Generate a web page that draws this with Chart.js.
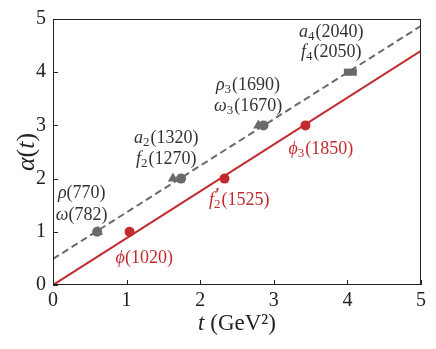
<!DOCTYPE html>
<html lang="en">
<head>
  <meta charset="UTF-8">
  <title>Regge trajectories</title>
  <style>
    html, body { margin: 0; padding: 0; background: #fff; }
    #wrap { width: 436px; height: 349px; }
  </style>
  <script src="https://cdn.jsdelivr.net/npm/chart.js"></script>
</head>
<body>
  <div id="wrap"><canvas id="regge"></canvas></div>

  <script>
    // mass squared (GeV^2) vs spin J
    const grayCircleT = [0.60, 1.74, 2.86];
    const grayCircleJ = [1, 2, 3];
    const grayTriangleT = [0.61, 1.63, 2.79];
    const grayTriangleJ = [1, 2, 3];
    const graySquareT = [4.00, 4.08];
    const graySquareJ = [4, 4];
    const redT = [1.04, 2.33, 3.43];
    const redJ = [1, 2, 3];

    // linear trajectories, end points at t = 0 and t = 5
    const lineT = [0, 5];
    const grayLineA = [0.49, 4.87];
    const redLineA = [0, 4.40];

    const tickValues = [0, 1, 2, 3, 4, 5];

    const GRAY = '#6a6a6a';
    const RED = '#c22a2e';
    const SERIF = '"Liberation Serif", "DejaVu Serif", serif';

    const pts = (xs, ys) => xs.map((x, i) => ({ x: x, y: ys[i] }));

    // labels: [t, alpha, colour, parts]
    const labels = [
      [0.39, 1.72, '#333', [{ t: 'ρ', it: true }, { t: '(770)' }]],
      [0.39, 1.31, '#333', [{ t: 'ω', it: true }, { t: '(782)' }]],
      [1.54, 2.76, '#333', [{ t: 'a', it: true }, { sub: '2' }, { t: '(1320)' }]],
      [1.54, 2.37, '#333', [{ t: 'f', it: true }, { sub: '2' }, { t: '(1270)' }]],
      [2.65, 3.75, '#333', [{ t: 'ρ', it: true }, { sub: '3' }, { t: '(1690)' }]],
      [2.65, 3.36, '#333', [{ t: 'ω', it: true }, { sub: '3' }, { t: '(1670)' }]],
      [3.78, 4.76, '#333', [{ t: 'a', it: true }, { sub: '4' }, { t: '(2040)' }]],
      [3.78, 4.37, '#333', [{ t: 'f', it: true }, { sub: '4' }, { t: '(2050)' }]],
      [1.24, 0.50, RED, [{ t: 'ϕ', it: true }, { t: '(1020)' }]],
      [2.53, 1.59, RED, [{ t: 'f', it: true }, { sub: '2', sup: '′' }, { t: '(1525)' }]],
      [3.64, 2.56, RED, [{ t: 'ϕ', it: true }, { sub: '3' }, { t: '(1850)' }]]
    ];

    function drawRich(ctx, parts, cx, cy, color, size) {
      const base = size + 'px ' + SERIF;
      const ital = 'italic ' + size + 'px ' + SERIF;
      const small = Math.round(size * 0.7) + 'px ' + SERIF;
      let w = 0;
      parts.forEach(p => {
        if (p.t) { ctx.font = p.it ? ital : base; p.w = ctx.measureText(p.t).width; }
        else { ctx.font = small; p.w = ctx.measureText(p.sub).width + 1; }
        w += p.w;
      });
      let x = cx - w / 2;
      ctx.fillStyle = color;
      ctx.textAlign = 'left';
      ctx.textBaseline = 'middle';
      parts.forEach(p => {
        if (p.t) { ctx.font = p.it ? ital : base; ctx.fillText(p.t, x, cy); }
        else {
          ctx.font = small;
          ctx.fillText(p.sub, x, cy + size * 0.25);
          if (p.sup) {
            ctx.font = 'bold ' + size + 'px ' + SERIF;
            ctx.fillText(p.sup, x + 1, cy - size * 0.2);
          }
        }
        x += p.w;
      });
    }

    const decor = {
      id: 'decor',
      afterDatasetsDraw(chart) {
        const ctx = chart.ctx;
        const a = chart.chartArea;
        const xs = chart.scales.x, ys = chart.scales.y;
        ctx.save();
        // frame
        ctx.strokeStyle = '#222';
        ctx.lineWidth = 1;
        ctx.strokeRect(a.left + 0.5, a.top + 0.5, a.right - a.left - 1, a.bottom - a.top - 1);
        // inward ticks on bottom and left
        ctx.beginPath();
        tickValues.forEach(v => {
          const px = Math.round(xs.getPixelForValue(v)) + 0.5;
          ctx.moveTo(px, a.bottom); ctx.lineTo(px, a.bottom - 5);
          const py = Math.round(ys.getPixelForValue(v)) + 0.5;
          ctx.moveTo(a.left, py); ctx.lineTo(a.left + 5, py);
        });
        ctx.stroke();
        // annotations
        labels.forEach(l => {
          drawRich(ctx, l[3], xs.getPixelForValue(l[0]), ys.getPixelForValue(l[1]), l[2], 18);
        });
        // axis titles
        drawRich(ctx, [{ t: 't', it: true }, { t: ' (GeV²)' }], (a.left + a.right) / 2, 324, '#222', 23);
        ctx.translate(27, (a.top + a.bottom) / 2);
        ctx.rotate(-Math.PI / 2);
        drawRich(ctx, [{ t: 'α', it: true }, { t: '(' }, { t: 't', it: true }, { t: ')' }], 0, 0, '#222', 26);
        ctx.restore();
      }
    };

    new Chart(document.getElementById('regge'), {
      type: 'scatter',
      data: {
        datasets: [
          {
            type: 'line', data: pts(lineT, grayLineA), borderColor: GRAY, borderWidth: 2,
            borderDash: [7, 4], pointRadius: 0, fill: false
          },
          {
            type: 'line', data: pts(lineT, redLineA), borderColor: RED, borderWidth: 2,
            pointRadius: 0, fill: false
          },
          { data: pts(grayTriangleT, grayTriangleJ), pointStyle: 'triangle', pointRadius: 6,
            backgroundColor: GRAY, borderColor: GRAY, borderWidth: 0 },
          { data: pts(grayCircleT, grayCircleJ), pointStyle: 'circle', pointRadius: 5,
            backgroundColor: GRAY, borderColor: GRAY, borderWidth: 0 },
          { data: pts(graySquareT, graySquareJ), pointStyle: 'rect', pointRadius: 5,
            backgroundColor: GRAY, borderColor: GRAY, borderWidth: 0 },
          { data: pts(redT, redJ), pointStyle: 'circle', pointRadius: 5,
            backgroundColor: RED, borderColor: RED, borderWidth: 0 }
        ]
      },
      options: {
        responsive: true,
        maintainAspectRatio: false,
        animation: false,
        layout: { padding: { left: 0, right: 15, top: 17, bottom: 0 } },
        plugins: { legend: { display: false }, tooltip: { enabled: false } },
        scales: {
          x: {
            type: 'linear', min: 0, max: 5,
            afterFit: s => { s.height = 64; },
            afterBuildTicks: s => { s.ticks = tickValues.map(v => ({ value: v })); },
            grid: { display: false, drawTicks: false },
            border: { display: false },
            ticks: { color: '#222', padding: 4, font: { family: SERIF, size: 20 } }
          },
          y: {
            type: 'linear', min: 0, max: 5,
            afterFit: s => { s.width = 53; },
            afterBuildTicks: s => { s.ticks = tickValues.map(v => ({ value: v })); },
            grid: { display: false, drawTicks: false },
            border: { display: false },
            ticks: { color: '#222', padding: 7, font: { family: SERIF, size: 20 } }
          }
        }
      },
      plugins: [decor]
    });
  </script>
</body>
</html>
